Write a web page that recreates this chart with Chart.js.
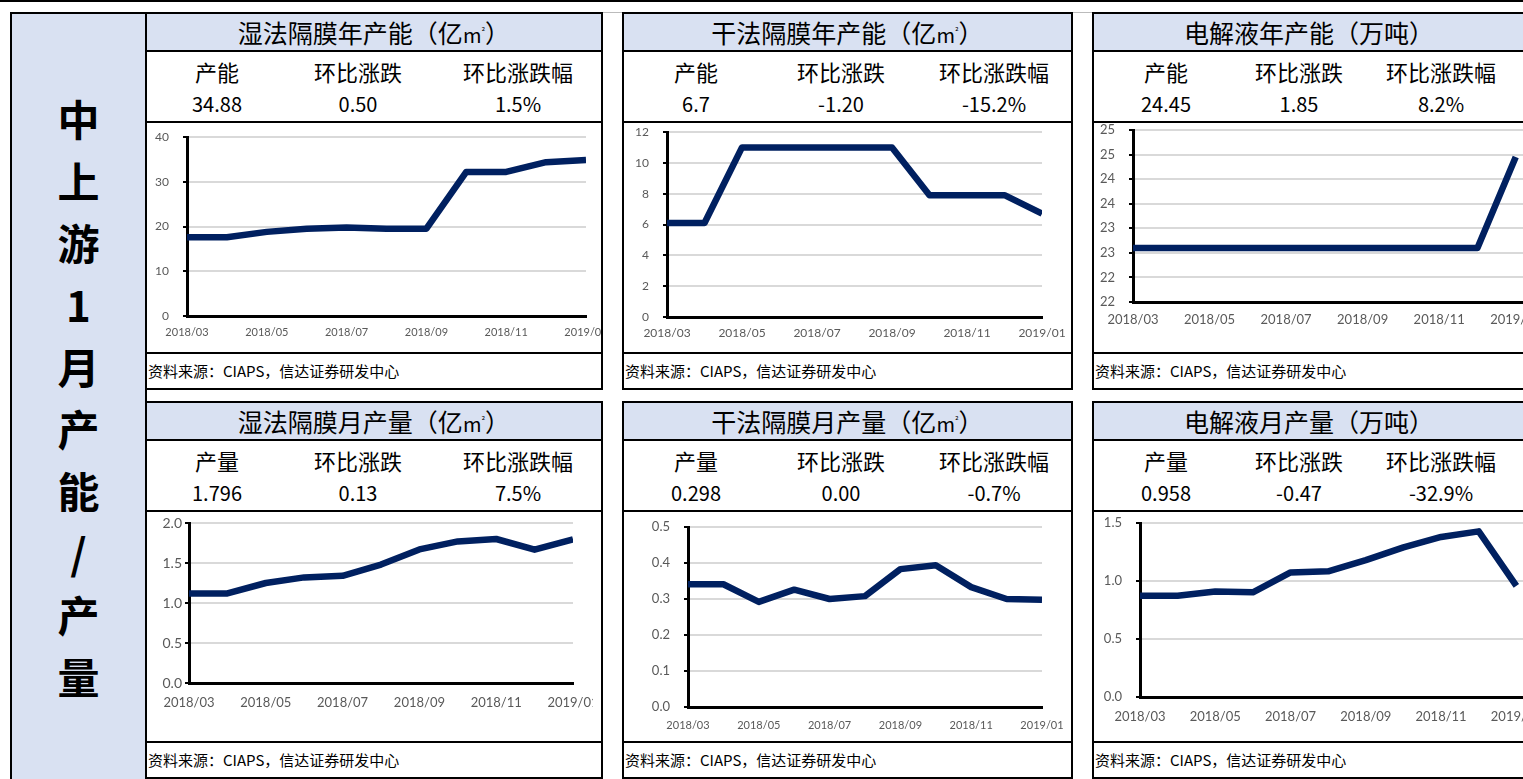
<!DOCTYPE html>
<html>
<head>
<meta charset="utf-8">
<script src="https://cdn.jsdelivr.net/npm/chart.js@4.4.1/dist/chart.umd.min.js"></script>
<style>
  body { margin: 0; width: 1523px; height: 779px; overflow: hidden; background: #fff; position: relative;
         font-family: "Noto Sans CJK SC", "Noto Sans", sans-serif; color: #000; }
  #topline { position: absolute; left: 0; top: 0; width: 1523px; height: 2px; background: #000; }
  #frameline { position: absolute; left: 10px; top: 12px; width: 1513px; height: 1px; background: #bbb; }
  #side { position: absolute; left: 10px; top: 12px; width: 137px; height: 800px; background: #d9e1f2;
          border: 2px solid #000; border-bottom: none; box-sizing: border-box; }
  #side .txt { position: absolute; left: 0; width: 133px; top: 73px; text-align: center;
               font-size: 42px; font-weight: bold; line-height: 62px; }
  .panel { position: absolute; height: 378px; border: 2px solid #000; box-sizing: border-box; background: #fff; }
  .band { height: 36px; background: #d9e1f2; border-bottom: 2px solid #000; text-align: center;
          font-size: 25px; line-height: 36px; white-space: nowrap; }
  .band .m { font-size: 20px; }
  .band .sq { font-size: 9px; vertical-align: 8px; }
  .hdr { height: 69px; border-bottom: 2px solid #000; position: relative; }
  .hdr div { position: absolute; width: 160px; margin-left: -80px; text-align: center; }
  .hdr .h { top: 4px; font-size: 22px; line-height: 30px; }
  .hdr .v { top: 38px; font-size: 20px; line-height: 28px; }
  .cbox { height: 229px; border-bottom: 2px solid #000; position: relative; overflow: hidden; }
  .cbox canvas { position: absolute; left: 0; top: 0; }
  .src { height: 34px; line-height: 34px; font-size: 15px; padding-left: 1px; white-space: nowrap; }
</style>
</head>
<body>
<div id="topline"></div>
<div id="frameline"></div>
<div id="side"><div class="txt" id="sideTxt"></div></div>
<div id="panels"></div>

<script>
// 月份（横轴）
const months = ['2018/03', '2018/04', '2018/05', '2018/06', '2018/07', '2018/08',
                '2018/09', '2018/10', '2018/11', '2018/12', '2019/01'];

// 各图数据
const wetCap  = [17.6, 17.6, 18.8, 19.5, 19.8, 19.5, 19.5, 32.2, 32.2, 34.38, 34.88];
const dryCap  = [6.1, 6.1, 11.0, 11.0, 11.0, 11.0, 11.0, 7.9, 7.9, 7.9, 6.7];
const elecCap = [22.6, 22.6, 22.6, 22.6, 22.6, 22.6, 22.6, 22.6, 22.6, 22.6, 24.45];
const wetOut  = [1.12, 1.12, 1.25, 1.32, 1.34, 1.48, 1.67, 1.77, 1.80, 1.666, 1.796];
const dryOut  = [0.341, 0.341, 0.292, 0.326, 0.300, 0.308, 0.383, 0.394, 0.333, 0.300, 0.298];
const elecOut = [0.873, 0.873, 0.91, 0.902, 1.074, 1.083, 1.18, 1.29, 1.38, 1.428, 0.958];

// 标题与表头
const titles = ['湿法隔膜年产能（亿m²）', '干法隔膜年产能（亿m²）', '电解液年产能（万吨）',
                '湿法隔膜月产量（亿m²）', '干法隔膜月产量（亿m²）', '电解液月产量（万吨）'];
const headCap = ['产能', '环比涨跌', '环比涨跌幅'];
const headOut = ['产量', '环比涨跌', '环比涨跌幅'];
const summary = [
  ['34.88', '0.50', '1.5%'],
  ['6.7', '-1.20', '-15.2%'],
  ['24.45', '1.85', '8.2%'],
  ['1.796', '0.13', '7.5%'],
  ['0.298', '0.00', '-0.7%'],
  ['0.958', '-0.47', '-32.9%']
];
const sourceText = '资料来源：CIAPS，信达证券研发中心';
const sideText = ['中', '上', '游', '1', '月', '产', '能', '/', '产', '量'];

document.getElementById('sideTxt').innerHTML = sideText.join('<br>');

// 面板位置
const cols = [
  { left: 145, width: 458, cx: [70, 211, 371] },
  { left: 622, width: 451, cx: [72, 217, 370] },
  { left: 1092, width: 434, cx: [72, 205, 347] }
];
const rows = [12, 401];

// 每个图表的版式
const charts = [
  { data: wetCap,  w: 454, L: 40, T: 14, XH: 36, R: 15, xmax: 10, ymin: 0, ymax: 40, step: 10, dec: 0, yf: 12, xf: 11, yp: 14, xp: 10 },
  { data: dryCap,  w: 447, L: 43, T: 9,  XH: 35, R: 29, xmax: 10, ymin: 0, ymax: 12, step: 2,  dec: 0, yf: 12, xf: 12, yp: 14, xp: 9 },
  { data: elecCap, w: 476, L: 39, T: 7,  XH: 50, R: 16, xmax: 11, ymin: 21.5, ymax: 25, step: 0.5, dec: 0, yf: 13, xf: 13, yp: 14, xp: 10 },
  { data: wetOut,  w: 446, L: 42, T: 11, XH: 58, R: 20, xmax: 10, ymin: 0, ymax: 2, step: 0.5, dec: 1, yf: 14, xf: 13, yp: 3, xp: 12 },
  { data: dryOut,  w: 447, L: 64, T: 15, XH: 34, R: 29, xmax: 10, ymin: 0, ymax: 0.5, step: 0.1, dec: 1, yf: 13, xf: 11, yp: 14, xp: 12 },
  { data: elecOut, w: 476, L: 46, T: 11, XH: 44, R: 16, xmax: 11, ymin: 0, ymax: 1.5, step: 0.5, dec: 1, yf: 13, xf: 13, yp: 14, xp: 12 }
];

const wrap = document.getElementById('panels');
charts.forEach((c, i) => {
  const col = cols[i % 3];
  const top = rows[Math.floor(i / 3)];
  const heads = i < 3 ? headCap : headOut;
  const p = document.createElement('div');
  p.className = 'panel';
  p.style.left = col.left + 'px';
  p.style.top = top + 'px';
  p.style.width = col.width + 'px';
  let hdr = '';
  for (let k = 0; k < 3; k++) {
    hdr += `<div class="h" style="left:${col.cx[k]}px">${heads[k]}</div>`;
    hdr += `<div class="v" style="left:${col.cx[k]}px">${summary[i][k]}</div>`;
  }
  const title = titles[i].replace('m²', '<span class="m">m</span><span class="sq">²</span>');
  p.innerHTML = `<div class="band">${title}</div><div class="hdr">${hdr}</div>` +
    `<div class="cbox"><canvas id="c${i}" width="${c.w}" height="229"></canvas></div>` +
    `<div class="src">${sourceText}</div>`;
  wrap.appendChild(p);
});

Chart.defaults.font.family = 'Lato, "Noto Sans", sans-serif';
Chart.defaults.color = '#595959';

function drawChart(i) {
  const c = charts[i];
  const ctx = document.getElementById('c' + i).getContext('2d');
  new Chart(ctx, {
    type: 'line',
    data: {
      datasets: [{
        data: c.data.map((v, k) => ({ x: k, y: v })),
        borderColor: '#002060',
        borderWidth: 6.5,
        borderJoinStyle: 'round',
        pointRadius: 0,
        fill: false,
        tension: 0
      }]
    },
    options: {
      responsive: false,
      animation: false,
      devicePixelRatio: 1,
      layout: { padding: { top: c.T, right: c.R, left: 0, bottom: 0 } },
      plugins: { legend: { display: false }, tooltip: { enabled: false } },
      scales: {
        x: {
          type: 'linear',
          min: 0,
          max: c.xmax,
          grid: { display: false, drawTicks: false },
          border: { display: true, color: '#000', width: 3 },
          ticks: {
            stepSize: 2, autoSkip: false, maxRotation: 0, padding: c.xp,
            font: { size: c.xf },
            callback: v => months[v] ?? ''
          },
          afterFit: s => { s.height = c.XH; s.paddingLeft = 0; s.paddingRight = 0; }
        },
        y: {
          min: c.ymin,
          max: c.ymax,
          grid: { color: '#d9d9d9', lineWidth: 2, tickColor: '#000', tickLength: 4 },
          border: { display: true, color: '#000', width: 3 },
          ticks: {
            stepSize: c.step, padding: c.yp,
            font: { size: c.yf },
            callback: v => Number(v).toFixed(c.dec)
          },
          afterFit: s => { s.width = c.L; s.paddingTop = 0; s.paddingBottom = 0; }
        }
      }
    }
  });
}

charts.forEach((c, i) => drawChart(i));
</script>
</body>
</html>
